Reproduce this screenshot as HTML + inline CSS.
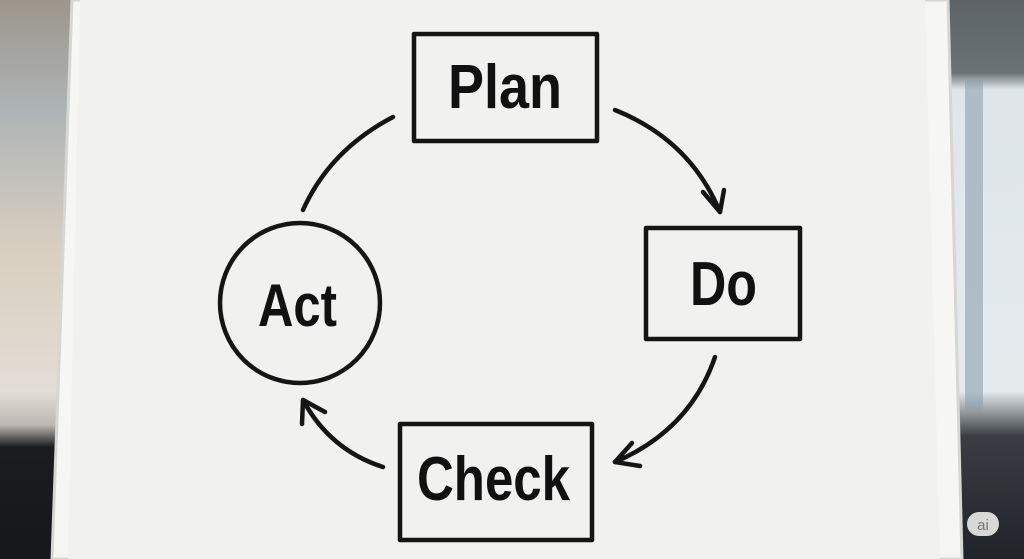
<!DOCTYPE html>
<html><head><style>
html,body{margin:0;padding:0;width:1024px;height:559px;overflow:hidden;background:#d8d4cc}
svg{display:block}
text{font-family:"Liberation Sans",sans-serif;font-weight:bold;fill:#111}
</style></head><body>
<svg width="1024" height="559" viewBox="0 0 1024 559">
<defs>
<linearGradient id="lb" x1="0" y1="0" x2="0" y2="1">
<stop offset="0" stop-color="#9c968c"/><stop offset="0.2" stop-color="#aeb4b6"/>
<stop offset="0.45" stop-color="#d9cfc0"/><stop offset="0.7" stop-color="#e2ddd6"/>
<stop offset="0.76" stop-color="#bdb8b2"/><stop offset="0.8" stop-color="#1a1c20"/><stop offset="1" stop-color="#15171a"/>
</linearGradient>
<linearGradient id="rb" x1="0" y1="0" x2="0" y2="1">
<stop offset="0" stop-color="#5d6468"/><stop offset="0.13" stop-color="#6a7276"/>
<stop offset="0.16" stop-color="#dfe6ea"/><stop offset="0.7" stop-color="#e4eaec"/>
<stop offset="0.78" stop-color="#3a3e44"/><stop offset="1" stop-color="#202328"/>
</linearGradient>
</defs>
<rect x="0" y="0" width="80" height="559" fill="url(#lb)"/>
<rect x="940" y="0" width="84" height="559" fill="url(#rb)"/>
<rect x="965" y="80" width="18" height="330" fill="#8aa0b0" opacity="0.6"/>
<polygon points="72,0 948,0 962,559 52,559" fill="#f6f6f4" stroke="#d6d6d2" stroke-width="3"/>
<polygon points="80,0 925,0 940,559 68,559" fill="#f1f1f0"/>
<g fill="none" stroke="#151515" stroke-width="4.5" stroke-linecap="round" stroke-linejoin="round">
<rect x="414" y="34" width="183" height="107"/>
<rect x="646" y="228" width="154" height="111"/>
<rect x="400" y="424" width="192" height="116"/>
<circle cx="300" cy="303" r="80"/>
<path d="M393,117 Q330,150 303,210"/>
<path d="M615,110 Q690,140 720,212"/>
<path d="M703,192 L720,212 L724,190"/>
<path d="M715,357 Q690,430 615,462"/>
<path d="M632,443 L615,462 L640,466"/>
<path d="M383,467 Q330,450 303,400"/>
<path d="M302,424 L303,400 L325,412"/>
</g>
<text x="448" y="108" font-size="62" textLength="114" lengthAdjust="spacingAndGlyphs">Plan</text>
<text x="690" y="305" font-size="62" textLength="67" lengthAdjust="spacingAndGlyphs">Do</text>
<text x="417" y="500" font-size="62" textLength="153" lengthAdjust="spacingAndGlyphs">Check</text>
<text x="258" y="326" font-size="60" textLength="79" lengthAdjust="spacingAndGlyphs">Act</text>
<rect x="967" y="512" width="32" height="24" rx="12" fill="#d8d8d6"/>
<text x="983" y="530" font-size="15" text-anchor="middle" style="font-weight:normal;fill:#777">ai</text>
</svg>
</body></html>
